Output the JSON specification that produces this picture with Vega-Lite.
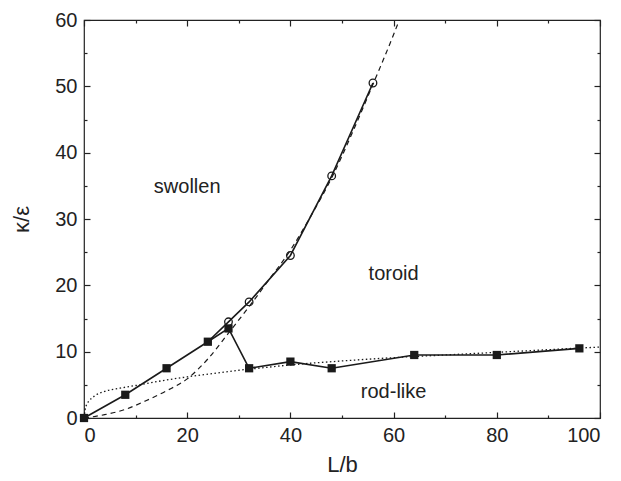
{
  "$schema": "https://vega.github.io/schema/vega-lite/v6.json",
  "width": 516,
  "height": 398,
  "autosize": "none",
  "padding": {"left": 84, "top": 20, "right": 21, "bottom": 63},
  "background": "white",
  "view": {"stroke": "#222", "strokeWidth": 1.2},
  "config": {
    "axis": {
      "domain": false,
      "grid": false,
      "labelFont": "Liberation Sans",
      "labelFontSize": 20,
      "labelColor": "#222",
      "titleFont": "Liberation Sans",
      "titleFontSize": 22,
      "titleFontWeight": "normal",
      "titleColor": "#222",
      "tickColor": "#222",
      "tickWidth": 1.2
    },
    "text": {"font": "Liberation Sans", "fontSize": 20, "color": "#222"}
  },
  "datasets": {
    "spinodalDashed": [
      {"Lb": 0, "kappa": 0},
      {"Lb": 4, "kappa": 0.5},
      {"Lb": 8, "kappa": 1.3},
      {"Lb": 12, "kappa": 2.6},
      {"Lb": 16, "kappa": 4.1},
      {"Lb": 20, "kappa": 5.9},
      {"Lb": 24, "kappa": 8.9},
      {"Lb": 28, "kappa": 12.8},
      {"Lb": 32, "kappa": 16.8},
      {"Lb": 36, "kappa": 21},
      {"Lb": 40, "kappa": 25.3},
      {"Lb": 44, "kappa": 30.5},
      {"Lb": 48, "kappa": 36.2},
      {"Lb": 52, "kappa": 43},
      {"Lb": 56, "kappa": 50.3},
      {"Lb": 60, "kappa": 57.8},
      {"Lb": 62, "kappa": 61.8}
    ],
    "rodDotted": [
      {"Lb": 0, "kappa": 0},
      {"Lb": 0.2, "kappa": 1.2},
      {"Lb": 0.5, "kappa": 2.0},
      {"Lb": 1, "kappa": 2.6},
      {"Lb": 2, "kappa": 3.3},
      {"Lb": 4, "kappa": 4.0},
      {"Lb": 7, "kappa": 4.5},
      {"Lb": 10, "kappa": 4.9},
      {"Lb": 15, "kappa": 5.6},
      {"Lb": 20, "kappa": 6.2},
      {"Lb": 25, "kappa": 6.7},
      {"Lb": 30, "kappa": 7.2},
      {"Lb": 35, "kappa": 7.6},
      {"Lb": 40, "kappa": 8.0},
      {"Lb": 50, "kappa": 8.6},
      {"Lb": 60, "kappa": 9.1},
      {"Lb": 70, "kappa": 9.5},
      {"Lb": 80, "kappa": 9.9},
      {"Lb": 90, "kappa": 10.3},
      {"Lb": 100, "kappa": 10.7}
    ],
    "rodBoundary": [
      {"Lb": 0, "kappa": 0},
      {"Lb": 8, "kappa": 3.5},
      {"Lb": 16, "kappa": 7.5},
      {"Lb": 24, "kappa": 11.5},
      {"Lb": 28, "kappa": 13.5},
      {"Lb": 32, "kappa": 7.5},
      {"Lb": 40, "kappa": 8.5},
      {"Lb": 48, "kappa": 7.5},
      {"Lb": 64, "kappa": 9.5},
      {"Lb": 80, "kappa": 9.5},
      {"Lb": 96, "kappa": 10.5}
    ],
    "toroidBoundary": [
      {"Lb": 24, "kappa": 11.5},
      {"Lb": 28, "kappa": 14.5},
      {"Lb": 32, "kappa": 17.5},
      {"Lb": 40, "kappa": 24.5},
      {"Lb": 48, "kappa": 36.5},
      {"Lb": 56, "kappa": 50.5}
    ],
    "phases": [
      {"Lb": 20, "kappa": 33.9, "phase": "swollen"},
      {"Lb": 60, "kappa": 20.8, "phase": "toroid"},
      {"Lb": 60, "kappa": 3.0, "phase": "rod-like"}
    ]
  },
  "resolve": {"axis": {"x": "independent", "y": "independent"}},
  "layer": [
    {
      "data": {"name": "spinodalDashed"},
      "mark": {"type": "line", "clip": true, "color": "#1a1a1a", "strokeWidth": 1.2, "strokeDash": [5, 4], "interpolate": "monotone"},
      "encoding": {
        "x": {
          "field": "Lb", "type": "quantitative",
          "scale": {"domain": [0, 100], "nice": false, "zero": false},
          "axis": {"orient": "bottom", "values": [0, 20, 40, 60, 80, 100], "tickSize": -6, "labelPadding": 13, "title": "L/b", "titlePadding": 9}
        },
        "y": {
          "field": "kappa", "type": "quantitative",
          "scale": {"domain": [0, 60], "nice": false, "zero": false},
          "axis": {"orient": "left", "values": [0, 10, 20, 30, 40, 50, 60], "tickSize": -6, "labelPadding": 13, "title": "κ/ε", "titlePadding": 21}
        }
      }
    },
    {
      "data": {"name": "rodDotted"},
      "mark": {"type": "line", "clip": true, "color": "#1a1a1a", "strokeWidth": 1.3, "strokeDash": [1.5, 2.5], "interpolate": "monotone"},
      "encoding": {
        "x": {"field": "Lb", "type": "quantitative", "axis": {"orient": "bottom", "values": [10, 30, 50, 70, 90], "tickSize": -3, "labels": false, "title": null}},
        "y": {"field": "kappa", "type": "quantitative", "axis": {"orient": "left", "values": [5, 15, 25, 35, 45, 55], "tickSize": -3, "labels": false, "title": null}}
      }
    },
    {
      "data": {"name": "rodBoundary"},
      "mark": {"type": "line", "color": "#1a1a1a", "strokeWidth": 1.6},
      "encoding": {
        "x": {"field": "Lb", "type": "quantitative", "axis": {"orient": "top", "values": [0, 20, 40, 60, 80, 100], "tickSize": -6, "labels": false, "title": null}},
        "y": {"field": "kappa", "type": "quantitative", "axis": {"orient": "right", "values": [0, 10, 20, 30, 40, 50, 60], "tickSize": -6, "labels": false, "title": null}},
        "order": {"value": 0}
      }
    },
    {
      "data": {"name": "toroidBoundary"},
      "mark": {"type": "line", "color": "#1a1a1a", "strokeWidth": 1.6},
      "encoding": {
        "x": {"field": "Lb", "type": "quantitative", "axis": {"orient": "top", "values": [10, 30, 50, 70, 90], "tickSize": -3, "labels": false, "title": null}},
        "y": {"field": "kappa", "type": "quantitative", "axis": {"orient": "right", "values": [5, 15, 25, 35, 45, 55], "tickSize": -3, "labels": false, "title": null}}
      }
    },
    {
      "data": {"name": "rodBoundary"},
      "mark": {"type": "point", "shape": "square", "filled": true, "color": "#1a1a1a", "size": 68, "opacity": 1},
      "encoding": {
        "x": {"field": "Lb", "type": "quantitative", "axis": null},
        "y": {"field": "kappa", "type": "quantitative", "axis": null}
      }
    },
    {
      "data": {"name": "toroidBoundary"},
      "transform": [{"filter": "datum.Lb > 24"}],
      "mark": {"type": "point", "shape": "circle", "filled": false, "color": "#1a1a1a", "fill": "white", "fillOpacity": 0, "size": 58, "strokeWidth": 1.3, "opacity": 1},
      "encoding": {
        "x": {"field": "Lb", "type": "quantitative", "axis": null},
        "y": {"field": "kappa", "type": "quantitative", "axis": null}
      }
    },
    {
      "data": {"name": "phases"},
      "mark": {"type": "text", "align": "center", "baseline": "alphabetic"},
      "encoding": {
        "x": {"field": "Lb", "type": "quantitative", "axis": null},
        "y": {"field": "kappa", "type": "quantitative", "axis": null},
        "text": {"field": "phase"}
      }
    }
  ]
}
